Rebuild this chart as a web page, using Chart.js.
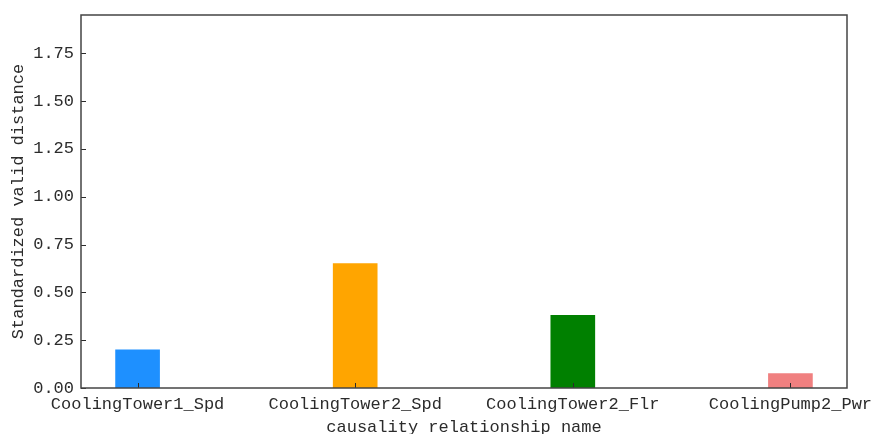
<!DOCTYPE html>
<html>
<head>
  <title>Standardized valid distance</title>
  <script src="https://cdn.jsdelivr.net/npm/chart.js"></script>
  <style>
    body { margin: 0; background: #fff; overflow: hidden; }
    canvas { display: block; }
  </style>
</head>
<body>
  <canvas id="distChart" width="875" height="434"></canvas>

  <script>
    // causality relationships and their standardized valid distance
    const categories = ['CoolingTower1_Spd', 'CoolingTower2_Spd', 'CoolingTower2_Flr', 'CoolingPump2_Pwr'];
    const distances = [0.20, 0.65, 0.38, 0.075];
    const barColors = ['#1e90ff', '#ffa500', '#008000', '#f08080'];
    const yTicks = [0, 0.25, 0.5, 0.75, 1.0, 1.25, 1.5, 1.75];

    const FONT = { family: "'Liberation Mono', 'DejaVu Sans Mono', monospace", size: 17 };
    const INK = '#2b2b2b';

    // matplotlib-like frame with inward tick marks
    const framePlugin = {
      id: 'frame',
      afterDatasetsDraw(chart) {
        const { ctx, chartArea: a, scales } = chart;
        ctx.save();
        ctx.strokeStyle = INK;
        ctx.lineWidth = 1;
        ctx.beginPath();
        scales.x.ticks.forEach((t, i) => {
          const px = Math.round(scales.x.getPixelForTick(i)) + 0.5;
          ctx.moveTo(px, a.bottom);
          ctx.lineTo(px, a.bottom - 5);
        });
        scales.y.ticks.forEach((t, i) => {
          const py = Math.round(scales.y.getPixelForTick(i)) + 0.5;
          ctx.moveTo(a.left, py);
          ctx.lineTo(a.left + 5, py);
        });
        ctx.stroke();
        ctx.lineWidth = 1.5;
        ctx.strokeStyle = '#444';
        ctx.strokeRect(a.left, a.top, a.right - a.left, a.bottom - a.top);
        ctx.restore();
      }
    };

    const ctx = document.getElementById('distChart').getContext('2d');
    new Chart(ctx, {
      type: 'bar',
      data: {
        datasets: [{
          data: distances.map((v, i) => ({ x: i, y: v })),
          backgroundColor: barColors,
          borderWidth: 0,
          barThickness: 44
        }]
      },
      options: {
        responsive: false,
        animation: false,
        layout: { padding: { top: 15, right: 28, left: 0, bottom: 0 } },
        plugins: { legend: { display: false }, tooltip: { enabled: false } },
        scales: {
          x: {
            type: 'linear',
            offset: false,
            min: -0.26,
            max: 3.26,
            grid: { display: false, drawTicks: false, offset: false },
            border: { display: false },
            afterBuildTicks(scale) {
              scale.ticks = categories.map((c, i) => ({ value: i }));
            },
            afterFit(scale) {
              scale.height = 46;
              // let the end labels run past the plot edges
              scale.paddingLeft = 0;
              scale.paddingRight = 0;
            },
            ticks: {
              color: INK,
              font: FONT,
              padding: 6,
              maxRotation: 0,
              autoSkip: false,
              callback: (v) => categories[v] ?? ''
            },
            title: {
              display: true,
              text: 'causality relationship name',
              color: INK,
              font: FONT,
              padding: { top: 0, bottom: -4 }
            }
          },
          y: {
            min: 0,
            max: 1.95,
            grid: { display: false, drawTicks: false },
            border: { display: false },
            afterBuildTicks(scale) {
              scale.ticks = yTicks.map(v => ({ value: v }));
            },
            afterFit(scale) {
              scale.width = 81;
              scale.paddingTop = 0;
              scale.paddingBottom = 0;
            },
            ticks: {
              color: INK,
              font: FONT,
              padding: 7,
              callback: (v) => Number(v).toFixed(2)
            },
            title: {
              display: true,
              text: 'Standardized valid distance',
              color: INK,
              font: FONT,
              padding: { top: 8, bottom: 0 }
            }
          }
        }
      },
      plugins: [framePlugin]
    });
  </script>
</body>
</html>
